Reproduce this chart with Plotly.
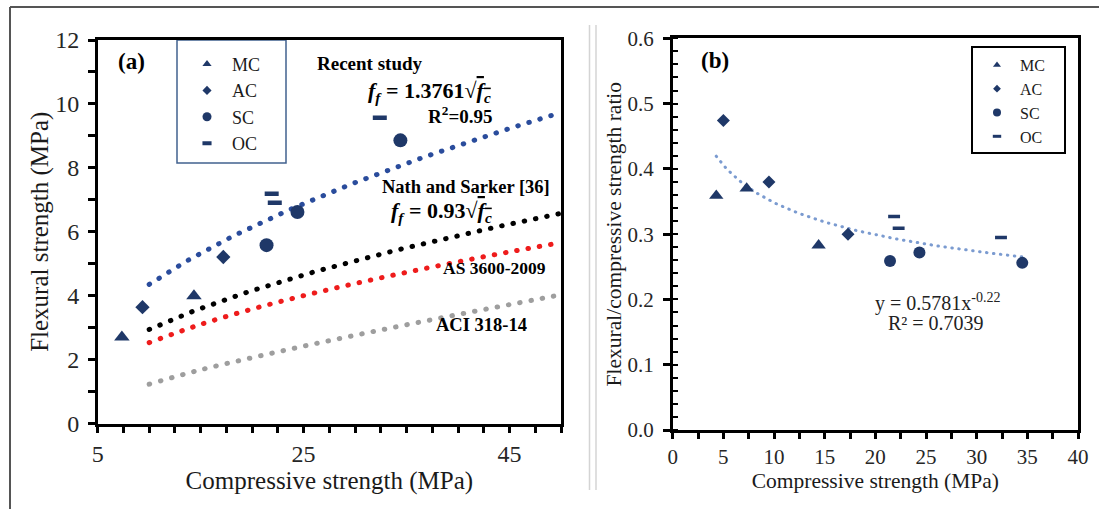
import numpy as np
import plotly.graph_objects as go

W, H = 1099, 509
SERIF = "Liberation Serif, Times New Roman, serif"
NAVY = "#1f3868"

# ---------------- (a) flexural strength vs compressive strength ----------------
mc_fc_a = [7.35, 14.35]
mc_ff_a = [2.70, 3.99]
ac_fc_a = [9.35, 17.2]
ac_ff_a = [3.64, 5.21]
sc_fc_a = [21.4, 24.4, 34.4]
sc_ff_a = [5.58, 6.62, 8.86]
oc_fc_a = [21.9, 22.2, 32.4]
oc_ff_a = [7.19, 6.91, 9.57]

# design-code curves
code_fc = [10, 15, 20, 25, 30, 35, 40, 45, 50]
as3600_ff = [2.53, 3.10, 3.58, 4.00, 4.38, 4.73, 5.06, 5.37, 5.66]
aci318_ff = [1.23, 1.68, 2.06, 2.42, 2.76, 3.09, 3.41, 3.72, 4.03]

# square-root relations  f_f = k * sqrt(f_c)
recent_k = 1.3761
recent_r2 = 0.95
nath_k = 0.93
sqrt_fc_range = [10, 50]

# ---------------- (b) flexural / compressive strength ratio ----------------
mc_fc_b = [4.3, 7.3, 14.4]
mc_ratio_b = [0.359, 0.370, 0.283]
ac_fc_b = [5.0, 9.5, 17.3]
ac_ratio_b = [0.474, 0.380, 0.300]
sc_fc_b = [21.45, 24.35, 34.5]
sc_ratio_b = [0.259, 0.272, 0.256]
oc_fc_b = [21.85, 22.3, 32.4]
oc_ratio_b = [0.327, 0.309, 0.295]

# power-law fit  y = a * x^b
fit_a, fit_b, fit_r2 = 0.5781, -0.22, 0.7039


def px(x):
    return x / W


def py(y):
    return 1 - y / H


fig = go.Figure()

# dotted curves in (a)
fc_dense = np.linspace(sqrt_fc_range[0], sqrt_fc_range[1], 81)
fig.add_trace(go.Scatter(x=fc_dense, y=recent_k * np.sqrt(fc_dense), mode="lines",
                         line=dict(color="#2a4c9c", width=5, dash="0.5px,11px"),
                         showlegend=False, hoverinfo="skip", xaxis="x", yaxis="y"))
fig.add_trace(go.Scatter(x=fc_dense, y=nath_k * np.sqrt(fc_dense), mode="lines",
                         line=dict(color="#000000", width=5, dash="0.5px,11px"),
                         showlegend=False, hoverinfo="skip", xaxis="x", yaxis="y"))
fig.add_trace(go.Scatter(x=code_fc, y=as3600_ff, mode="lines", line_shape="spline",
                         line=dict(color="#ee1c1c", width=5, dash="0.5px,11px"),
                         showlegend=False, hoverinfo="skip", xaxis="x", yaxis="y"))
fig.add_trace(go.Scatter(x=code_fc, y=aci318_ff, mode="lines", line_shape="spline",
                         line=dict(color="#9e9e9e", width=5, dash="0.5px,11px"),
                         showlegend=False, hoverinfo="skip", xaxis="x", yaxis="y"))

# fitted power curve in (b)
all_fc_b = mc_fc_b + ac_fc_b + sc_fc_b + oc_fc_b
fit_x = np.linspace(min(all_fc_b), max(all_fc_b), 80)
fig.add_trace(go.Scatter(x=fit_x, y=fit_a * fit_x ** fit_b, mode="lines",
                         line=dict(color="#7b9bd0", width=3, dash="0.5px,6.5px"),
                         showlegend=False, hoverinfo="skip", xaxis="x2", yaxis="y2"))

# concrete types: (name, symbol, plot sizes a/b, legend sizes a/b)
groups = [
    ("MC", "triangle-up", mc_fc_a, mc_ff_a, mc_fc_b, mc_ratio_b, 13.5, 12.5, 8, 7),
    ("AC", "diamond", ac_fc_a, ac_ff_a, ac_fc_b, ac_ratio_b, 11, 10, 7, 6),
    ("SC", "circle", sc_fc_a, sc_ff_a, sc_fc_b, sc_ratio_b, 14, 12, 9, 8),
    ("OC", "line-ew", oc_fc_a, oc_ff_a, oc_fc_b, oc_ratio_b, 10, 8.5, 6.5, 6),
]


def marker(symbol, size, lw):
    if symbol == "line-ew":
        return dict(symbol=symbol, size=size, line=dict(color=NAVY, width=lw))
    return dict(symbol=symbol, size=size, color=NAVY, line=dict(width=0))


for name, sym, xa, ya, xb, yb, sa, sb, la, lb in groups:
    fig.add_trace(go.Scatter(x=xa, y=ya, mode="markers", marker=marker(sym, sa, 4.5),
                             showlegend=False, xaxis="x", yaxis="y", name=name))
    fig.add_trace(go.Scatter(x=xb, y=yb, mode="markers", marker=marker(sym, sb, 3.5),
                             showlegend=False, xaxis="x2", yaxis="y2", name=name))
    # legend entries
    fig.add_trace(go.Scatter(x=[None], y=[None], mode="markers", marker=marker(sym, la, 4),
                             name=name, legend="legend", xaxis="x", yaxis="y"))
    fig.add_trace(go.Scatter(x=[None], y=[None], mode="markers", marker=marker(sym, lb, 3),
                             name=name, legend="legend2", xaxis="x2", yaxis="y2"))

tickfont_a = dict(family=SERIF, size=24, color="#262626")
tickfont_b = dict(family=SERIF, size=21, color="#262626")
axis_common = dict(showline=True, mirror=True, linecolor="black", showgrid=False,
                   zeroline=False, ticks="outside", tickcolor="black", automargin=False)

fig.update_layout(
    width=W, height=H, autosize=False,
    margin=dict(l=0, r=0, t=0, b=0, pad=0, autoexpand=False),
    paper_bgcolor="white", plot_bgcolor="white",
    showlegend=True,
    xaxis=dict(domain=[px(97.7), px(561)], range=[5, 50], anchor="y",
               tickmode="linear", tick0=5, dtick=20, ticklen=7, tickwidth=2.5, linewidth=2.5,
               minor=dict(dtick=2.5, tick0=5, ticks="outside", ticklen=7, tickwidth=2.5,
                          tickcolor="black", showgrid=False),
               tickfont=tickfont_a,
               title=dict(text="Compressive strength (MPa)", font=dict(family=SERIF, size=25, color="#1a1a1a"),
                          standoff=2),
               **axis_common),
    yaxis=dict(domain=[py(423.5), py(40)], range=[0, 12], anchor="x",
               tickmode="linear", tick0=0, dtick=2, ticklen=7, tickwidth=2.5, linewidth=2.5,
               ticklabelstandoff=4,
               minor=dict(dtick=1, ticks="outside", ticklen=7, tickwidth=2.5,
                          tickcolor="black", showgrid=False),
               tickfont=tickfont_a,
               title=dict(text="Flexural strength (MPa)", font=dict(family=SERIF, size=25, color="#1a1a1a"),
                          standoff=0),
               **axis_common),
    xaxis2=dict(domain=[px(672.7), px(1078)], range=[0, 40], anchor="y2",
                tickmode="linear", tick0=0, dtick=5, ticklen=6, tickwidth=2.5, linewidth=2.5,
                minor=dict(dtick=2.5, ticks="outside", ticklen=6, tickwidth=2.5,
                           tickcolor="black", showgrid=False),
                tickfont=tickfont_b,
                title=dict(text="Compressive strength (MPa)", font=dict(family=SERIF, size=21.5, color="#1a1a1a"),
                           standoff=2),
                **axis_common),
    yaxis2=dict(domain=[py(430), py(38.3)], range=[0, 0.6], anchor="x2",
                tickmode="linear", tick0=0, dtick=0.1, tickformat=".1f", ticklen=7, tickwidth=2.5,
                linewidth=2.5, ticklabelstandoff=5,
                minor=dict(dtick=0.02, ticks="inside", ticklen=6, tickwidth=2,
                           tickcolor="black", showgrid=False),
                tickfont=tickfont_b,
                title=dict(text="Flexural/compressive strength ratio",
                           font=dict(family=SERIF, size=21.5, color="#1a1a1a"), standoff=0),
                **axis_common),
    legend=dict(x=px(182), y=py(45.8), xanchor="left", yanchor="top",
                bgcolor="rgba(0,0,0,0)", borderwidth=0, itemwidth=40,
                font=dict(family=SERIF, size=18, color="#1a1a1a"), tracegroupgap=0),
    legend2=dict(x=px(974), y=py(48), xanchor="left", yanchor="top",
                 bgcolor="rgba(0,0,0,0)", borderwidth=0, itemwidth=36,
                 font=dict(family=SERIF, size=16, color="#1a1a1a"), tracegroupgap=0),
)

shapes = [
    # outer frame (top and left edges)
    dict(type="line", xref="paper", yref="paper", x0=px(10), x1=1, y0=py(7), y1=py(7),
         line=dict(color="#555555", width=2)),
    dict(type="line", xref="paper", yref="paper", x0=px(10), x1=px(10), y0=py(7), y1=0,
         line=dict(color="#555555", width=2)),
    # separator between the panels
    dict(type="line", xref="paper", yref="paper", x0=px(589.5), x1=px(589.5), y0=py(25), y1=py(490),
         line=dict(color="#d4d4d4", width=1.5)),
    dict(type="line", xref="paper", yref="paper", x0=px(596), x1=px(596), y0=py(25), y1=py(490),
         line=dict(color="#d4d4d4", width=1.5)),
    # legend boxes
    dict(type="rect", xref="paper", yref="paper", x0=px(177), x1=px(286), y0=py(163), y1=py(40),
         line=dict(color="#41618f", width=1.5), layer="below"),
    dict(type="rect", xref="paper", yref="paper", x0=px(972), x1=px(1065), y0=py(153), y1=py(47),
         line=dict(color="black", width=2)),
]
fig.update_layout(shapes=shapes)


def note(x, y, text, size, color="black"):
    return dict(x=px(x), y=py(y), xref="paper", yref="paper", text=text, showarrow=False,
                xanchor="center", yanchor="middle", font=dict(family=SERIF, size=size, color=color))


def sqrt_label(k):
    return ("<b><i>f<sub>f</sub></i> = " + f"{k}" + "√<span style='text-decoration:overline'>"
            "<i>f<sub>c</sub></i></span></b>")


annotations = [
    note(131, 62, "<b>(a)</b>", 23),
    note(370, 63, "<b>Recent study</b>", 19),
    note(429, 92, sqrt_label(recent_k), 22),
    note(460, 115, f"<b>R<sup>2</sup>={recent_r2}</b>", 19),
    note(466, 187, "<b>Nath and Sarker [36]</b>", 18.5),
    note(441, 212, sqrt_label(nath_k), 22),
    note(494, 268, "<b>AS 3600-2009</b>", 17.5),
    note(481, 325, "<b>ACI 318-14</b>", 18.5),
    note(715, 60, "<b>(b)</b>", 23),
    note(937, 302, f"y = {fit_a}x<sup>{fit_b}</sup>", 20, "#222222"),
    note(936, 323, f"R² = {fit_r2}", 20, "#222222"),
]
fig.update_layout(annotations=annotations)

post = """
var gd = document.getElementById('{plot_id}');
gd.querySelectorAll('.scatterlayer .js-line').forEach(function(p){ p.style.strokeLinecap = 'round'; });
"""
fig.write_html("out.html", post_script=post)
